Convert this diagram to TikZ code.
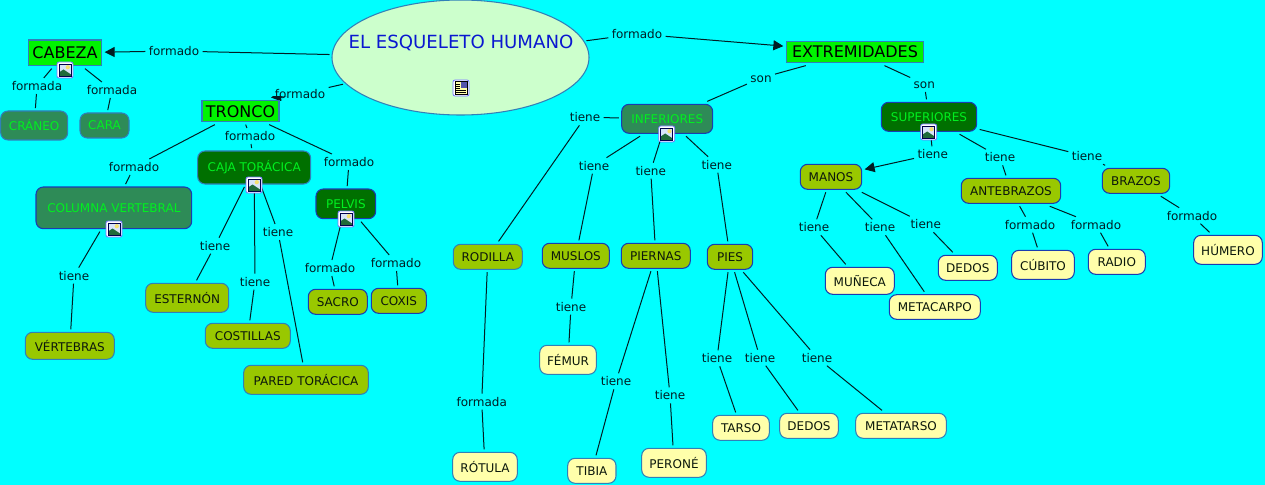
\documentclass[tikz,border=0pt]{standalone}
\usepackage{fontspec}
\setmainfont{DejaVu Sans}
\usetikzlibrary{shapes.geometric,arrows.meta}
\definecolor{bgc}{HTML}{00FFFF}
\definecolor{bright}{HTML}{00F400}
\definecolor{sea}{HTML}{2E8B57}
\definecolor{dgreen}{HTML}{007000}
\definecolor{olive}{HTML}{99C800}
\definecolor{pale}{HTML}{FFFFAA}
\definecolor{mint}{HTML}{CCFFCC}
\definecolor{txtgreen}{HTML}{00F020}
\definecolor{bdark}{HTML}{1A3CB0}
\definecolor{blight}{HTML}{3080B8}
\definecolor{ink}{HTML}{001E24}
\definecolor{nodeink}{HTML}{0C180C}
\definecolor{titleblue}{HTML}{0A18D0}
\definecolor{skyc}{HTML}{D8E4FA}
\definecolor{hillc}{HTML}{1F6B3A}
\definecolor{sunc}{HTML}{F4E070}
\pgfdeclarelayer{bg}
\pgfsetlayers{bg,main}
\tikzset{
  x=0.75pt,y=-0.75pt,
  concept/.style={draw,line width=0.8pt,inner sep=0pt,outer sep=2.2pt,align=center,font=\fontsize{9}{11}\selectfont},
  roundbox/.style={concept,rounded corners=5.5pt},
  top/.style={concept,draw=blight,fill=bright,text=black,font=\fontsize{12}{14}\selectfont},
  seaL/.style={roundbox,draw=blight,fill=sea,text=txtgreen},
  seaD/.style={roundbox,draw=bdark,fill=sea,text=txtgreen},
  greenL/.style={roundbox,draw=blight,fill=dgreen,text=txtgreen},
  greenD/.style={roundbox,draw=bdark,fill=dgreen,text=txtgreen},
  oliveL/.style={roundbox,draw=blight,fill=olive,text=nodeink},
  oliveD/.style={roundbox,draw=bdark,fill=olive,text=nodeink},
  paleL/.style={roundbox,draw=blight,fill=pale,text=nodeink},
  paleD/.style={roundbox,draw=bdark,fill=pale,text=nodeink},
  linkw/.style={inner xsep=2.6pt,inner ysep=0pt,outer sep=0pt,text=ink,text height=7pt,text depth=0pt,minimum height=12pt,font=\fontsize{9}{11}\selectfont},
  wire/.style={draw=ink,line width=0.75pt},
  arrowwire/.style={wire,-{Triangle[length=7.5pt,width=7.5pt]}},
  imgpic/.pic={
    \draw[draw=blue!55!white,fill=white,rounded corners=1.5pt,line width=0.6pt] (-8,-8) rectangle (8,8);
    \fill[skyc] (-6,-6) rectangle (6,6);
    \fill[sunc] (2.8,-2.8) circle (2.1);
    \fill[hillc] (-6,6) -- (-6,2.5) -- (-1.5,-0.5) -- (6,4.5) -- (6,6) -- cycle;
    \draw[draw=black!70!blue,line width=0.5pt] (-6,-6) rectangle (6,6);
  },
  docpic/.pic={
    \draw[draw=blue!55!white,fill=white,rounded corners=1.5pt,line width=0.6pt] (-8,-8) rectangle (8,8);
    \fill[pale] (-6,-6.5) rectangle (6,6.5);
    \fill[blue!35!gray] (0,-6) rectangle (5.5,0);
    \draw[black,line width=0.5pt] (-5,-4) -- (-1,-4) (-5,-2) -- (-1,-2) (-5,0.3) -- (-1,0.3)
      (-5,2.4) -- (5,2.4) (-5,4.5) -- (5,4.5);
    \draw[draw=black,line width=0.5pt] (-6,-6.5) rectangle (6,6.5);
  }
}
\newcommand{\cn}[7]{\node[#6,minimum width={(#4-#2)*0.75pt},minimum height={(#5-#3)*0.75pt}] (#1) at ({(#2+#4)/2},{(#3+#5)/2}) {#7};}
\newcommand{\lk}[4]{\node[linkw] (#1) at (#2,#3) {#4};}
\begin{document}
\begin{tikzpicture}
\useasboundingbox (0,0) rectangle (1265,485);
\begin{pgfonlayer}{bg}
\fill[bgc] (0,0) rectangle (1265,485);
\end{pgfonlayer}
% root
\node[ellipse,draw=blight,fill=mint,line width=0.8pt,inner sep=0pt,outer sep=2pt,minimum width={257*0.75pt},minimum height={115*0.75pt}] (root) at (460.5,57.5) {};
\node[inner sep=0pt,text=titleblue,font=\fontsize{13.6}{16}\selectfont] (roottxt) at (461,43) {EL ESQUELETO HUMANO};
% concepts
\cn{cabeza}{28.3}{40}{101.7}{65.7}{top}{CABEZA}
\cn{craneo}{0.7}{111}{67.7}{140}{seaL}{CRÁNEO}
\cn{cara}{80}{113}{129}{138}{seaL}{CARA}
\cn{tronco}{202}{100.7}{279}{121.7}{top}{TRONCO}
\cn{caja}{197.7}{151}{310.7}{184}{greenL}{CAJA TORÁCICA}
\cn{col}{36}{187}{191.7}{228.7}{seaD}{COLUMNA VERTEBRAL}
\cn{pelvis}{316}{189}{375.7}{218.7}{greenD}{PELVIS}
\cn{vert}{25.3}{332.3}{114.3}{359.3}{oliveL}{VÉRTEBRAS}
\cn{est}{145.7}{283.3}{228.7}{312.3}{oliveL}{ESTERNÓN}
\cn{cost}{205.3}{323.3}{290.3}{348.3}{oliveL}{COSTILLAS}
\cn{pared}{243.7}{365.3}{368.3}{394.3}{oliveL}{PARED TORÁCICA}
\cn{sacro}{308.3}{289.3}{367.3}{314.3}{oliveD}{SACRO}
\cn{coxis}{371.3}{288.3}{426.3}{313.3}{oliveD}{COXIS}
\cn{extrem}{786.3}{41.3}{923.7}{62.7}{top}{EXTREMIDADES}
\cn{inf}{621.7}{104.3}{712.7}{133.3}{seaD}{INFERIORES}
\cn{sup}{881.3}{102.3}{976.7}{131.3}{greenD}{SUPERIORES}
\cn{rodilla}{453.3}{244.3}{522.3}{269.3}{oliveL}{RODILLA}
\cn{muslos}{542.3}{243.3}{609.3}{268.3}{oliveD}{MUSLOS}
\cn{piernas}{621.3}{243.3}{690.3}{268.3}{oliveD}{PIERNAS}
\cn{pies}{707.3}{244.3}{752.7}{269.3}{oliveD}{PIES}
\cn{femur}{539.7}{345.3}{596.3}{374.3}{paleL}{FÉMUR}
\cn{rotula}{452.7}{452.3}{517.3}{481.3}{paleL}{RÓTULA}
\cn{tibia}{567.7}{458.3}{616}{483.3}{paleL}{TIBIA}
\cn{perone}{641.7}{448.3}{706.3}{477.3}{paleL}{PERONÉ}
\cn{tarso}{712.7}{415.3}{769.3}{440.3}{paleL}{TARSO}
\cn{dedosp}{779.7}{413.3}{838.3}{438.3}{paleL}{DEDOS}
\cn{metat}{855.7}{413.3}{946.3}{438.3}{paleL}{METATARSO}
\cn{manos}{800.3}{164.3}{861.7}{189.3}{oliveD}{MANOS}
\cn{ante}{961.3}{178.3}{1060.7}{203.3}{oliveD}{ANTEBRAZOS}
\cn{brazos}{1102.3}{168.3}{1169.7}{193.3}{oliveD}{BRAZOS}
\cn{muneca}{825.3}{267.3}{894.3}{294.3}{paleD}{MUÑECA}
\cn{metac}{889.3}{294.7}{980.3}{319.3}{paleD}{METACARPO}
\cn{dedosm}{938.3}{255.3}{997.3}{280.3}{paleD}{DEDOS}
\cn{cubito}{1011.7}{250.3}{1074.3}{279.3}{paleD}{CÚBITO}
\cn{radio}{1088.3}{249.3}{1145.3}{274.3}{paleD}{RADIO}
\cn{humero}{1193.7}{235.3}{1262.3}{264.3}{paleD}{HÚMERO}
% linking phrases
\lk{lcab}{174}{51}{formado}
\lk{lcra}{37}{86}{formada}
\lk{lcar}{112}{90}{formada}
\lk{ltro}{300}{94}{formado}
\lk{lcaj}{250}{136}{formado}
\lk{lcol}{134}{167}{formado}
\lk{lpel}{349}{162}{formado}
\lk{lpar}{278}{232}{tiene}
\lk{lver}{74}{275.7}{tiene}
\lk{lest}{215}{245.7}{tiene}
\lk{lcos}{255}{281.7}{tiene}
\lk{lsac}{330}{268}{formado}
\lk{lcox}{396}{263}{formado}
\lk{lext}{637}{34}{formado}
\lk{lsoni}{761}{78}{son}
\lk{lsons}{924.3}{84}{son}
\lk{lrod}{585}{117.3}{tiene}
\lk{lmus}{594}{165.7}{tiene}
\lk{lpie}{650.7}{170.7}{tiene}
\lk{lpis}{716.7}{164.7}{tiene}
\lk{lrot}{481.7}{401.7}{formada}
\lk{lfem}{571}{306.7}{tiene}
\lk{ltib}{616}{381.3}{tiene}
\lk{lper}{670}{395.3}{tiene}
\lk{ltar}{717}{358.3}{tiene}
\lk{lded}{760}{357.7}{tiene}
\lk{lmet}{817}{357.7}{tiene}
\lk{lman}{932.7}{154.3}{tiene}
\lk{lant}{1000}{157.3}{tiene}
\lk{lbra}{1087}{156.3}{tiene}
\lk{lmun}{814}{227.3}{tiene}
\lk{lmec}{880}{227.3}{tiene}
\lk{ldem}{925.7}{224.3}{tiene}
\lk{lcub}{1030}{224.7}{formado}
\lk{lrad}{1096}{224.7}{formado}
\lk{lhum}{1192}{215.7}{formado}
% connectors, under the nodes
\coordinate (trotip) at (271,97.5);
\begin{pgfonlayer}{bg}
\foreach \a/\b in {root/lcab,cabeza/lcra,lcra/craneo,cabeza/lcar,lcar/cara,root/ltro,
  tronco/lcaj,lcaj/caja,tronco/lcol,lcol/col,tronco/lpel,lpel/pelvis,
  col/lver,lver/vert,caja/lest,lest/est,caja/lcos,lcos/cost,caja/lpar,lpar/pared,
  pelvis/lsac,lsac/sacro,pelvis/lcox,lcox/coxis,root/lext,
  extrem/lsoni,lsoni/inf,extrem/lsons,lsons/sup,
  inf/lrod,lrod/rodilla,inf/lmus,lmus/muslos,inf/lpie,lpie/piernas,inf/lpis,lpis/pies,
  rodilla/lrot,lrot/rotula,muslos/lfem,lfem/femur,piernas/ltib,ltib/tibia,piernas/lper,lper/perone,
  pies/ltar,ltar/tarso,pies/lded,lded/dedosp,pies/lmet,lmet/metat,
  sup/lman,sup/lant,lant/ante,sup/lbra,lbra/brazos,
  manos/lmun,lmun/muneca,manos/lmec,lmec/metac,manos/ldem,ldem/dedosm,
  ante/lcub,lcub/cubito,ante/lrad,lrad/radio,brazos/lhum,lhum/humero}
  {\draw[wire] (\a) -- (\b);}
\draw[arrowwire] (lcab) -- (cabeza);
\draw[arrowwire] (lext) -- (extrem);
\draw[arrowwire] (lman) -- (manos);
\begin{scope}
\clip (262,96.5) rectangle (290,101);
\draw[arrowwire] (ltro.center) -- (trotip);
\end{scope}
\end{pgfonlayer}
% resource icons
\pic at (65,70) {imgpic};
\pic at (254,185) {imgpic};
\pic at (114,229) {imgpic};
\pic at (346,219) {imgpic};
\pic at (666.7,134) {imgpic};
\pic at (928.7,132) {imgpic};
\pic at (461,88) {docpic};
\end{tikzpicture}
\end{document}
